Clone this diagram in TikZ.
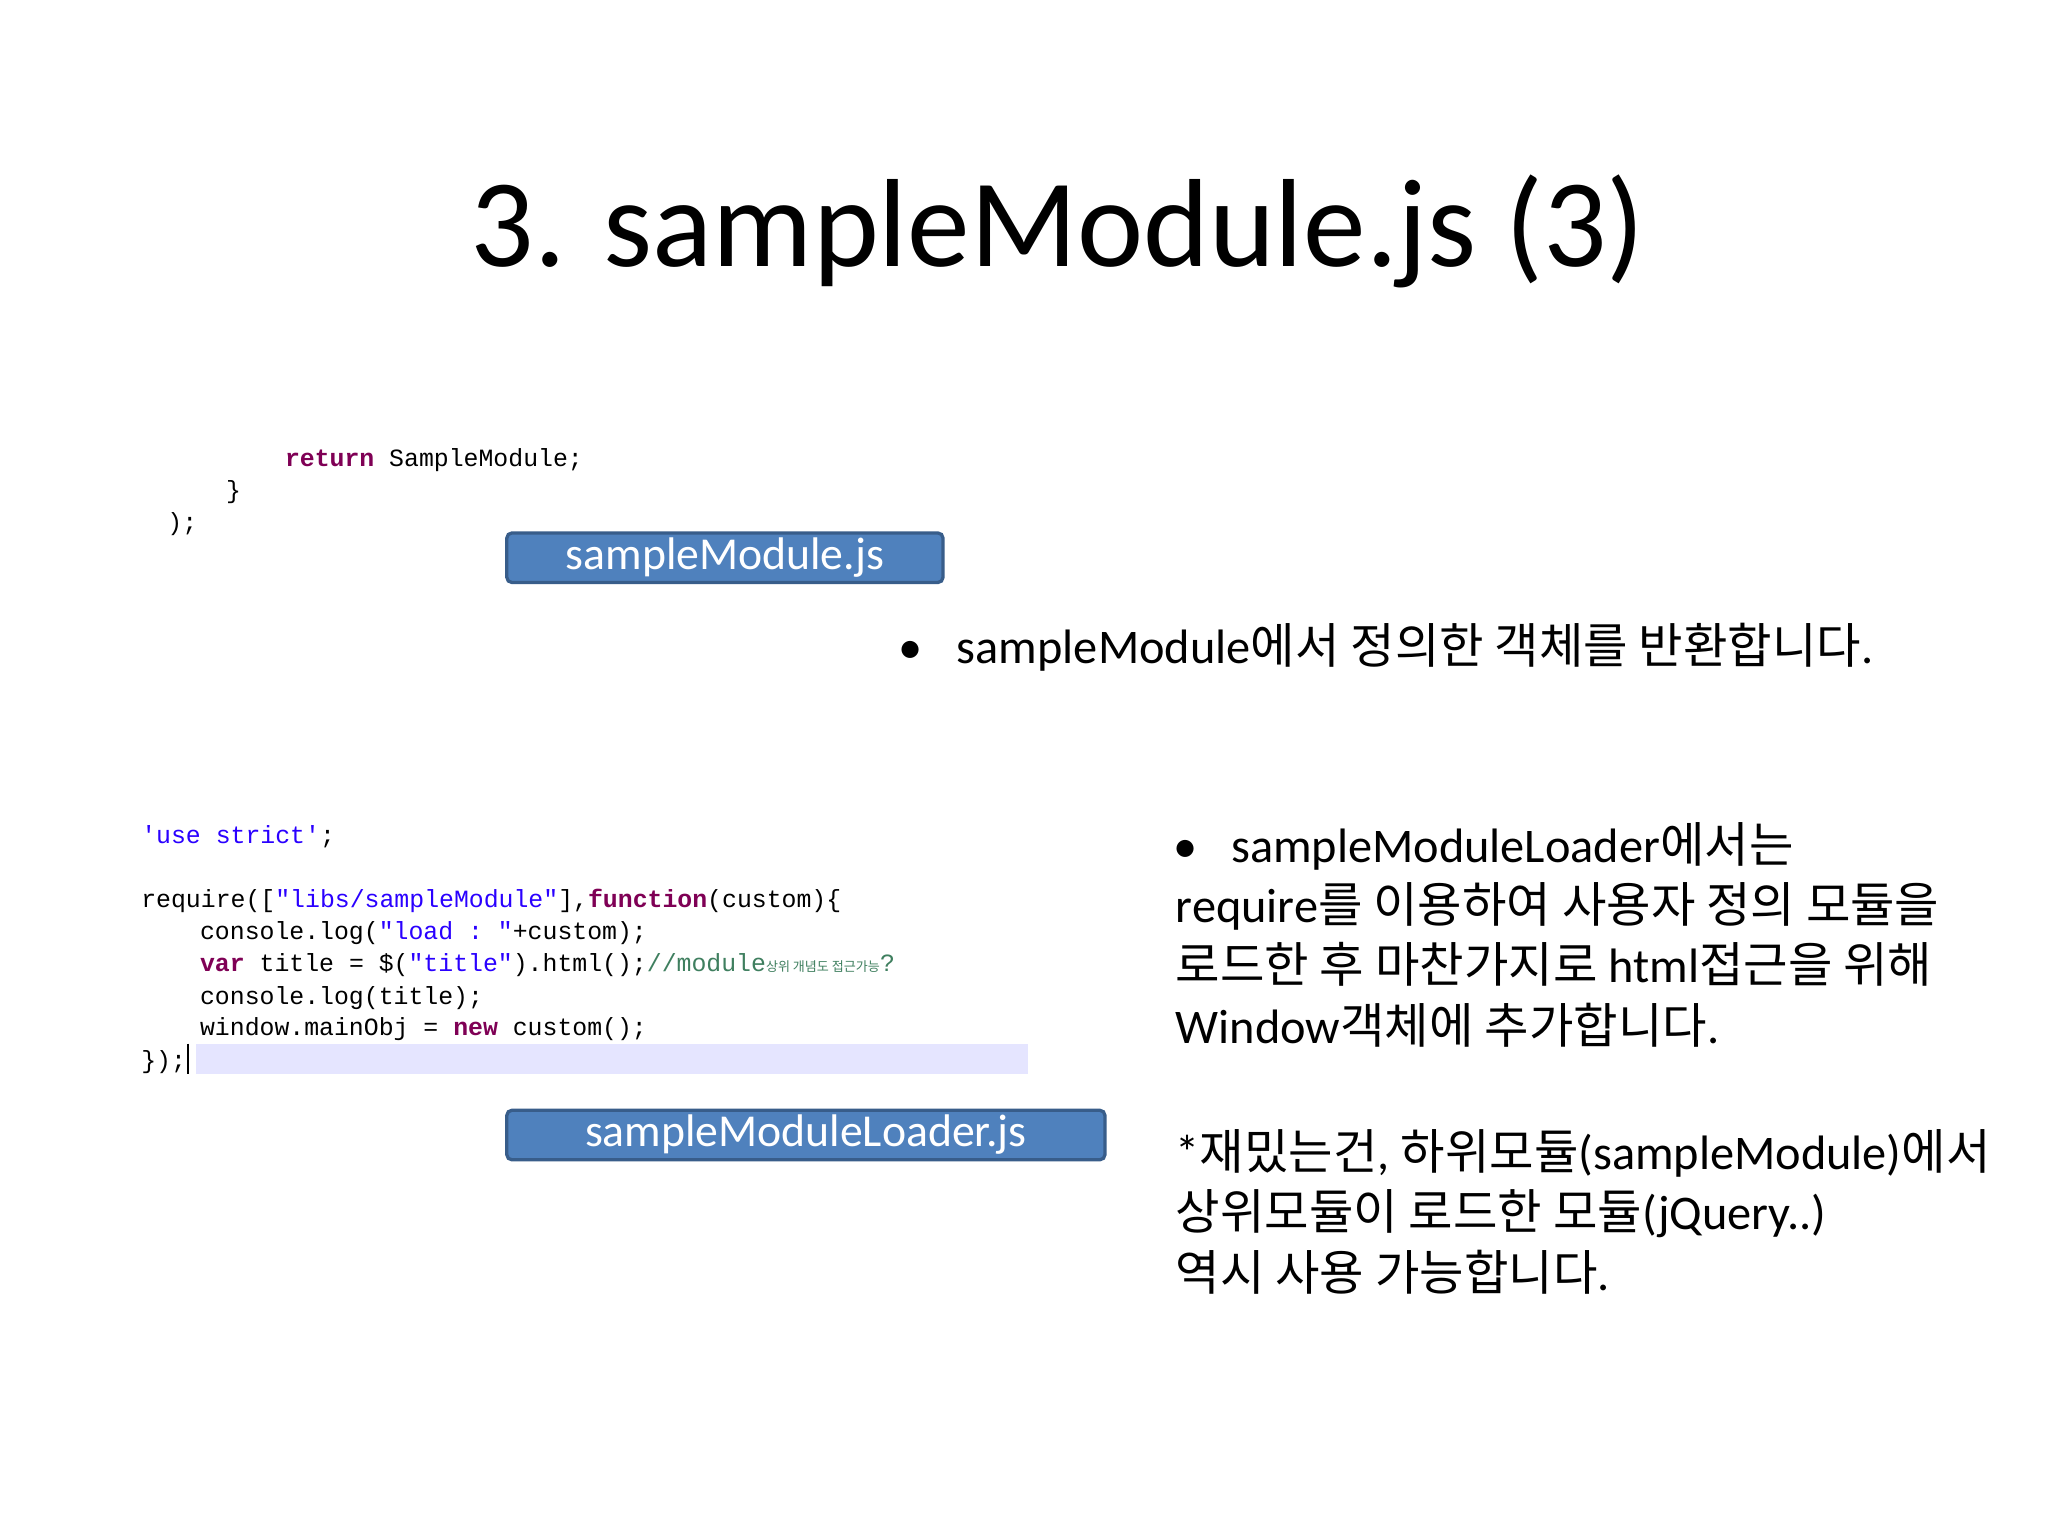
\documentclass[tikz,border=0pt]{standalone}
\usepackage{fontspec}
\setmainfont{Carlito}
\setmonofont{Liberation Mono}
\newfontfamily\cjk{Noto Sans CJK KR}
\newcommand{\kr}[1]{{\cjk #1}}
\definecolor{kw}{HTML}{7F0055}
\definecolor{st}{HTML}{2A00FF}
\definecolor{cm}{HTML}{3F7F5F}
\definecolor{boxfill}{HTML}{4F81BD}
\definecolor{boxline}{HTML}{385D8A}
\begin{document}
\begin{tikzpicture}[x=1pt,y=-1pt,
  code/.style={anchor=base west,inner sep=0,font=\fontsize{19}{22}\selectfont\ttfamily},
  txt/.style={anchor=base west,inner sep=0,font=\fontsize{37}{44}\selectfont},
  lbl/.style={draw=boxline,line width=2.5pt,fill=boxfill,rounded corners=4pt,text=white,font=\fontsize{35}{40}\selectfont,inner sep=0}]
\path[use as bounding box] (0,0) rectangle (1568,1176);
\clip (0,0) rectangle (1568,1176);
\fill[white] (0,0) rectangle (1568,1176);
\node[anchor=base,font=\fontsize{96}{110}\selectfont] (title) at (810,204) {3. sampleModule.js (3)};
% top code
\node[code] (c1) at (218,357) {\textcolor{kw}{\bfseries return} SampleModule;};
\node[code] (c2) at (173,382) {\}};
\node[code] (c3) at (128,406) {);};
\node[lbl,minimum width=334pt,minimum height=38pt] (b1) at (555,427) {sampleModule.js};
\node[txt] (t1) at (688,508) {•\hspace{26pt}sampleModule\kr{에서 정의한 객체를 반환합니다}.};
% bottom code
\fill[blue!10] (150,799) rectangle (787,822);
\node[code] (d1) at (108,646) {\textcolor{st}{'use strict'};};
\node[code] (d2) at (108,695) {require([\textcolor{st}{"libs/sampleModule"}],\textcolor{kw}{\bfseries function}(custom)\{};
\node[code] (d3) at (153,719) {console.log(\textcolor{st}{"load : "}+custom);};
\node[code] (d4) at (153,744) {\textcolor{kw}{\bfseries var} title = \$(\textcolor{st}{"title"}).html();\textcolor{cm}{//module{\cjk\fontsize{10}{12}\selectfont 상위 개념도 접근가능}?}};
\node[code] (d5) at (153,769) {console.log(title);};
\node[code] (d6) at (153,793) {window.mainObj = \textcolor{kw}{\bfseries new} custom();};
\node[code] (d7) at (108,818) {\});};
\draw[line width=1.5pt] (144,799) -- (144,822);
\node[lbl,minimum width=458pt,minimum height=38pt] (b2) at (617,869) {sampleModuleLoader.js};
\node[txt] (t2) at (898,660) {•\hspace{26pt}sampleModuleLoader\kr{에서는}};
\node[txt] (t3) at (900,706) {require\kr{를 이용하여 사용자 정의 모듈을}};
\node[txt] (t4) at (900,752) {\kr{로드한 후 마찬가지로} html\kr{접근을 위해}};
\node[txt] (t5) at (900,799) {Window\kr{객체에 추가합니다}.};
\node[txt] (t6) at (900,895) {*\kr{재밌는건}, \kr{하위모듈}(sampleModule)\kr{에서}};
\node[txt] (t7) at (900,941) {\kr{상위모듈이 로드한 모듈}(jQuery..)};
\node[txt] (t8) at (900,988) {\kr{역시 사용 가능합니다}.};
\end{tikzpicture}
\end{document}
